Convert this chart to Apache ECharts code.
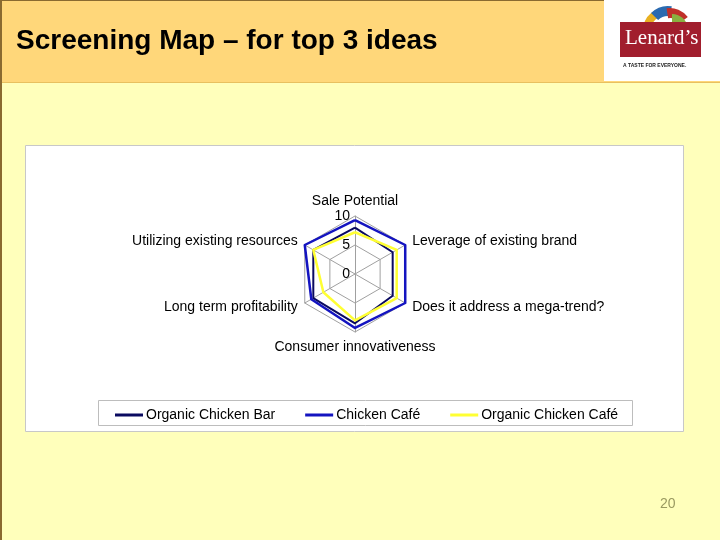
<!DOCTYPE html>
<html><head><meta charset="utf-8">
<script src="https://cdn.jsdelivr.net/npm/echarts@6/dist/echarts.min.js"></script>
<style>html,body{margin:0;padding:0;background:#FFFFBB}#c{width:720px;height:540px}</style>
</head><body><div id="c"></div>
<script>
// Indicators (listed counter-clockwise from the top, as ECharts lays them out)
const indicators = ['Sale Potential','Utilizing existing resources','Long term profitability','Consumer innovativeness','Does it address a mega-trend?','Leverage of existing brand'];
const axisMax = 10;
const seriesNames = ['Organic Chicken Bar','Chicken Café','Organic Chicken Café'];
const organicChickenBar = [8.0, 8.3, 8.3, 8.5, 7.5, 7.5];
const chickenCafe = [9.3, 10, 8.7, 9.3, 10, 10];
const organicChickenCafe = [7.2, 8.3, 6.3, 8.0, 8.3, 8.3];
const pageNumber = '20';

const colors = ['#0a0a60', '#1414c0', '#ffff33'];
const font = 'Arial, "Liberation Sans", sans-serif';

const chart = echarts.init(document.getElementById('c'));
chart.setOption({
  animation: false,
  backgroundColor: '#FFFFBB',
  graphic: [
    // header band
    {type:'rect', shape:{x:0,y:0,width:720,height:82}, style:{fill:'#FFD77A'}, z:-10},
    {type:'rect', shape:{x:0,y:82,width:720,height:1}, style:{fill:'#E8C060'}, z:-9},
    {type:'rect', shape:{x:0,y:0,width:2,height:540}, style:{fill:'#8A6A30'}, z:-9},
    {type:'rect', shape:{x:0,y:0,width:720,height:1}, style:{fill:'#8A6A30'}, z:-9},
    {type:'text', left:16, top:27, style:{text:'Screening Map – for top 3 ideas', font:'bold 28px '+font, fill:'#000'}},
    // logo box
    {type:'rect', shape:{x:604,y:0,width:116,height:81}, style:{fill:'#ffffff'}, z:-8},
    {type:'sector', shape:{cx:665,cy:30,r0:14,r:22,startAngle:Math.PI*1.05,endAngle:Math.PI*1.35}, style:{fill:'#e8b020'}},
    {type:'sector', shape:{cx:668,cy:30,r0:14,r:24,startAngle:Math.PI*1.25,endAngle:Math.PI*1.55}, style:{fill:'#2a6ab0'}},
    {type:'sector', shape:{cx:670,cy:30,r0:12,r:22,startAngle:Math.PI*1.45,endAngle:Math.PI*1.8}, style:{fill:'#c0302a'}},
    {type:'sector', shape:{cx:672,cy:30,r0:8,r:16,startAngle:Math.PI*1.5,endAngle:Math.PI*1.95}, style:{fill:'#8ab040'}},
    {type:'rect', shape:{x:620,y:22,width:81,height:35}, style:{fill:'#A11E2D'}},
    {type:'text', left:625, top:28, style:{text:'Lenard\u2019s', font:'21px "Liberation Serif", "DejaVu Serif", serif', fill:'#fff'}},
    {type:'text', left:623, top:63, style:{text:'A TASTE FOR EVERYONE.', font:'bold 5px '+font, fill:'#222'}},
    // chart box
    {type:'rect', shape:{x:25.5,y:145.5,width:658,height:286}, style:{fill:'#ffffff', stroke:'#c8c8c8', lineWidth:1}, z:-5},
    // legend box
    {type:'rect', shape:{x:98.5,y:400.5,width:534,height:25}, style:{fill:'#ffffff', stroke:'#bdbdbd', lineWidth:1}, z:-4},
    {type:'text', left:660, top:497, style:{text:pageNumber, font:'14px '+font, fill:'#9A9A60'}}
  ],
  color: colors,
  legend: {
    data: [
      {name: seriesNames[0]},
      {name: seriesNames[1], textStyle: {padding: [0, 3, 0, -2]}},
      {name: seriesNames[2]}
    ],
    left: 110, top: 403,
    itemWidth: 28, itemHeight: 3, itemGap: 30,
    icon: 'rect',
    textStyle: {fontFamily: font, fontSize: 14, color: '#000', padding:[0,0,0,-2]}
  },
  radar: {
    center: [355, 274],
    radius: 58,
    startAngle: 90,
    splitNumber: 2,
    shape: 'polygon',
    nameGap: 8,
    axisName: {color: '#000', fontFamily: font, fontSize: 14},
    indicator: indicators.map((t, i) => {
      const o = {name: t, min: 0, max: axisMax};
      if (i === 0) o.axisLabel = {show: true};
      return o;
    }),
    axisLabel: {show: false, color:'#000', fontFamily: font, fontSize: 14, margin: 5},
    axisLine: {lineStyle: {color: '#a0a0a0', width: 1}},
    splitLine: {lineStyle: {color: '#a0a0a0', width: 1}},
    splitArea: {show: false}
  },
  series: [{
    type: 'radar',
    symbol: 'none',
    data: [
      {name: seriesNames[0], value: organicChickenBar, lineStyle:{color:colors[0], width:2}},
      {name: seriesNames[1], value: chickenCafe, lineStyle:{color:colors[1], width:2.5}},
      {name: seriesNames[2], value: organicChickenCafe, lineStyle:{color:colors[2], width:2.5}}
    ]
  }]
});
</script></body></html>
